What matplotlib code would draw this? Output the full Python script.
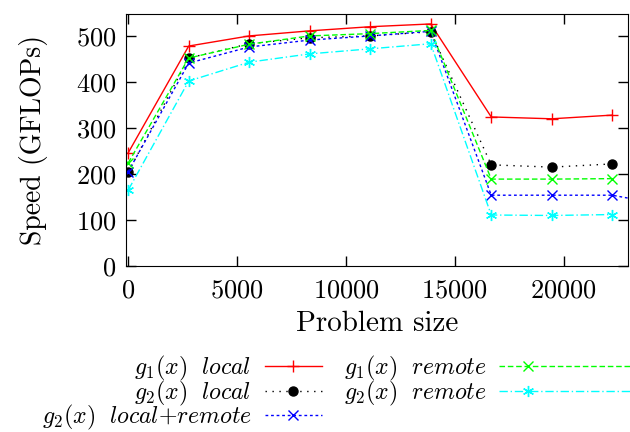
import matplotlib
matplotlib.use("Agg")
import matplotlib.pyplot as plt
from matplotlib.legend_handler import HandlerLine2DCompound

plt.rcParams['font.family'] = 'cmr10'
plt.rcParams['mathtext.fontset'] = 'cm'
plt.rcParams['axes.formatter.use_mathtext'] = True

sizes = [0, 2778, 5556, 8333, 11111, 13889, 16667, 19444, 22222]
sizes_blue = sizes + [25000]

g1_local = [246, 478, 500, 511, 520, 526, 324, 320, 328]
g2_local = [204, 452, 483, 496, 500, 509, 220, 215, 222]
g2_local_remote = [205, 441, 476, 491, 500, 510, 154, 154, 154, 130]
g1_remote = [224, 452, 482, 500, 505, 512, 189, 189, 190]
g2_remote = [165, 402, 443, 461, 472, 483, 111, 110, 112]


class LongSample(HandlerLine2DCompound):
    # sample line runs on past the box, marker stays at the usual place
    def get_xdata(self, legend, xdescent, ydescent, width, height, fontsize):
        xdata = [-xdescent, -xdescent + 2.5 * width]
        return xdata, [-xdescent + 0.5 * width]


fig = plt.figure(figsize=(6.3, 4.32), dpi=100)
ax = fig.add_axes([0.2, 0.384, 0.797, 0.584])

ax.plot(sizes, g1_local, color='#ff0000', lw=1, ls='-', marker='+', ms=8, mew=1,
        label=r'$g_1(x)\ \ local$')
ax.plot(sizes, g2_local, color='black', lw=1, ls=(0, (1, 4)), marker='o', ms=6.5,
        label=r'$g_2(x)\ \ local$')
ax.plot(sizes_blue, g2_local_remote, color='#0000ff', lw=1, ls=(0, (2, 2)), marker='x', ms=7, mew=1,
        label=r'$g_2(x)\ \ local{+}remote$')
l4, = ax.plot(sizes, g1_remote, color='#00ff00', lw=1, ls=(0, (4, 2)), marker='x', ms=7, mew=1,
              label=r'$g_1(x)\ \ remote$')
l5, = ax.plot(sizes, g2_remote, color='#00ffff', lw=1, ls=(0, (6, 2, 1, 2)), marker=(6, 2, 0), ms=8, mew=1,
              label=r'$g_2(x)\ \ remote$')

ax.set_xlim(-100, 22950)
ax.set_ylim(0, 548)
ax.set_xticks([0, 5000, 10000, 15000, 20000])
ax.set_yticks([0, 100, 200, 300, 400, 500])
ax.tick_params(direction='in', top=True, right=True, length=7, width=1, labelsize=19)
ax.tick_params(axis='x', pad=9)
ax.tick_params(axis='y', pad=7)
ax.set_xlabel('Problem size', fontsize=21, labelpad=6)
ax.set_ylabel('Speed (GFLOPs)', fontsize=20, labelpad=20)

ax.legend(loc='upper center', bbox_to_anchor=(0.345, -0.302), ncol=2, markerfirst=False,
          frameon=False, fontsize=17.2, handlelength=2.4, labelspacing=-0.2,
          columnspacing=0.9, handletextpad=0.55, borderpad=0,
          handler_map={l4: LongSample(), l5: LongSample()})

fig.savefig('out.png', dpi=100)
